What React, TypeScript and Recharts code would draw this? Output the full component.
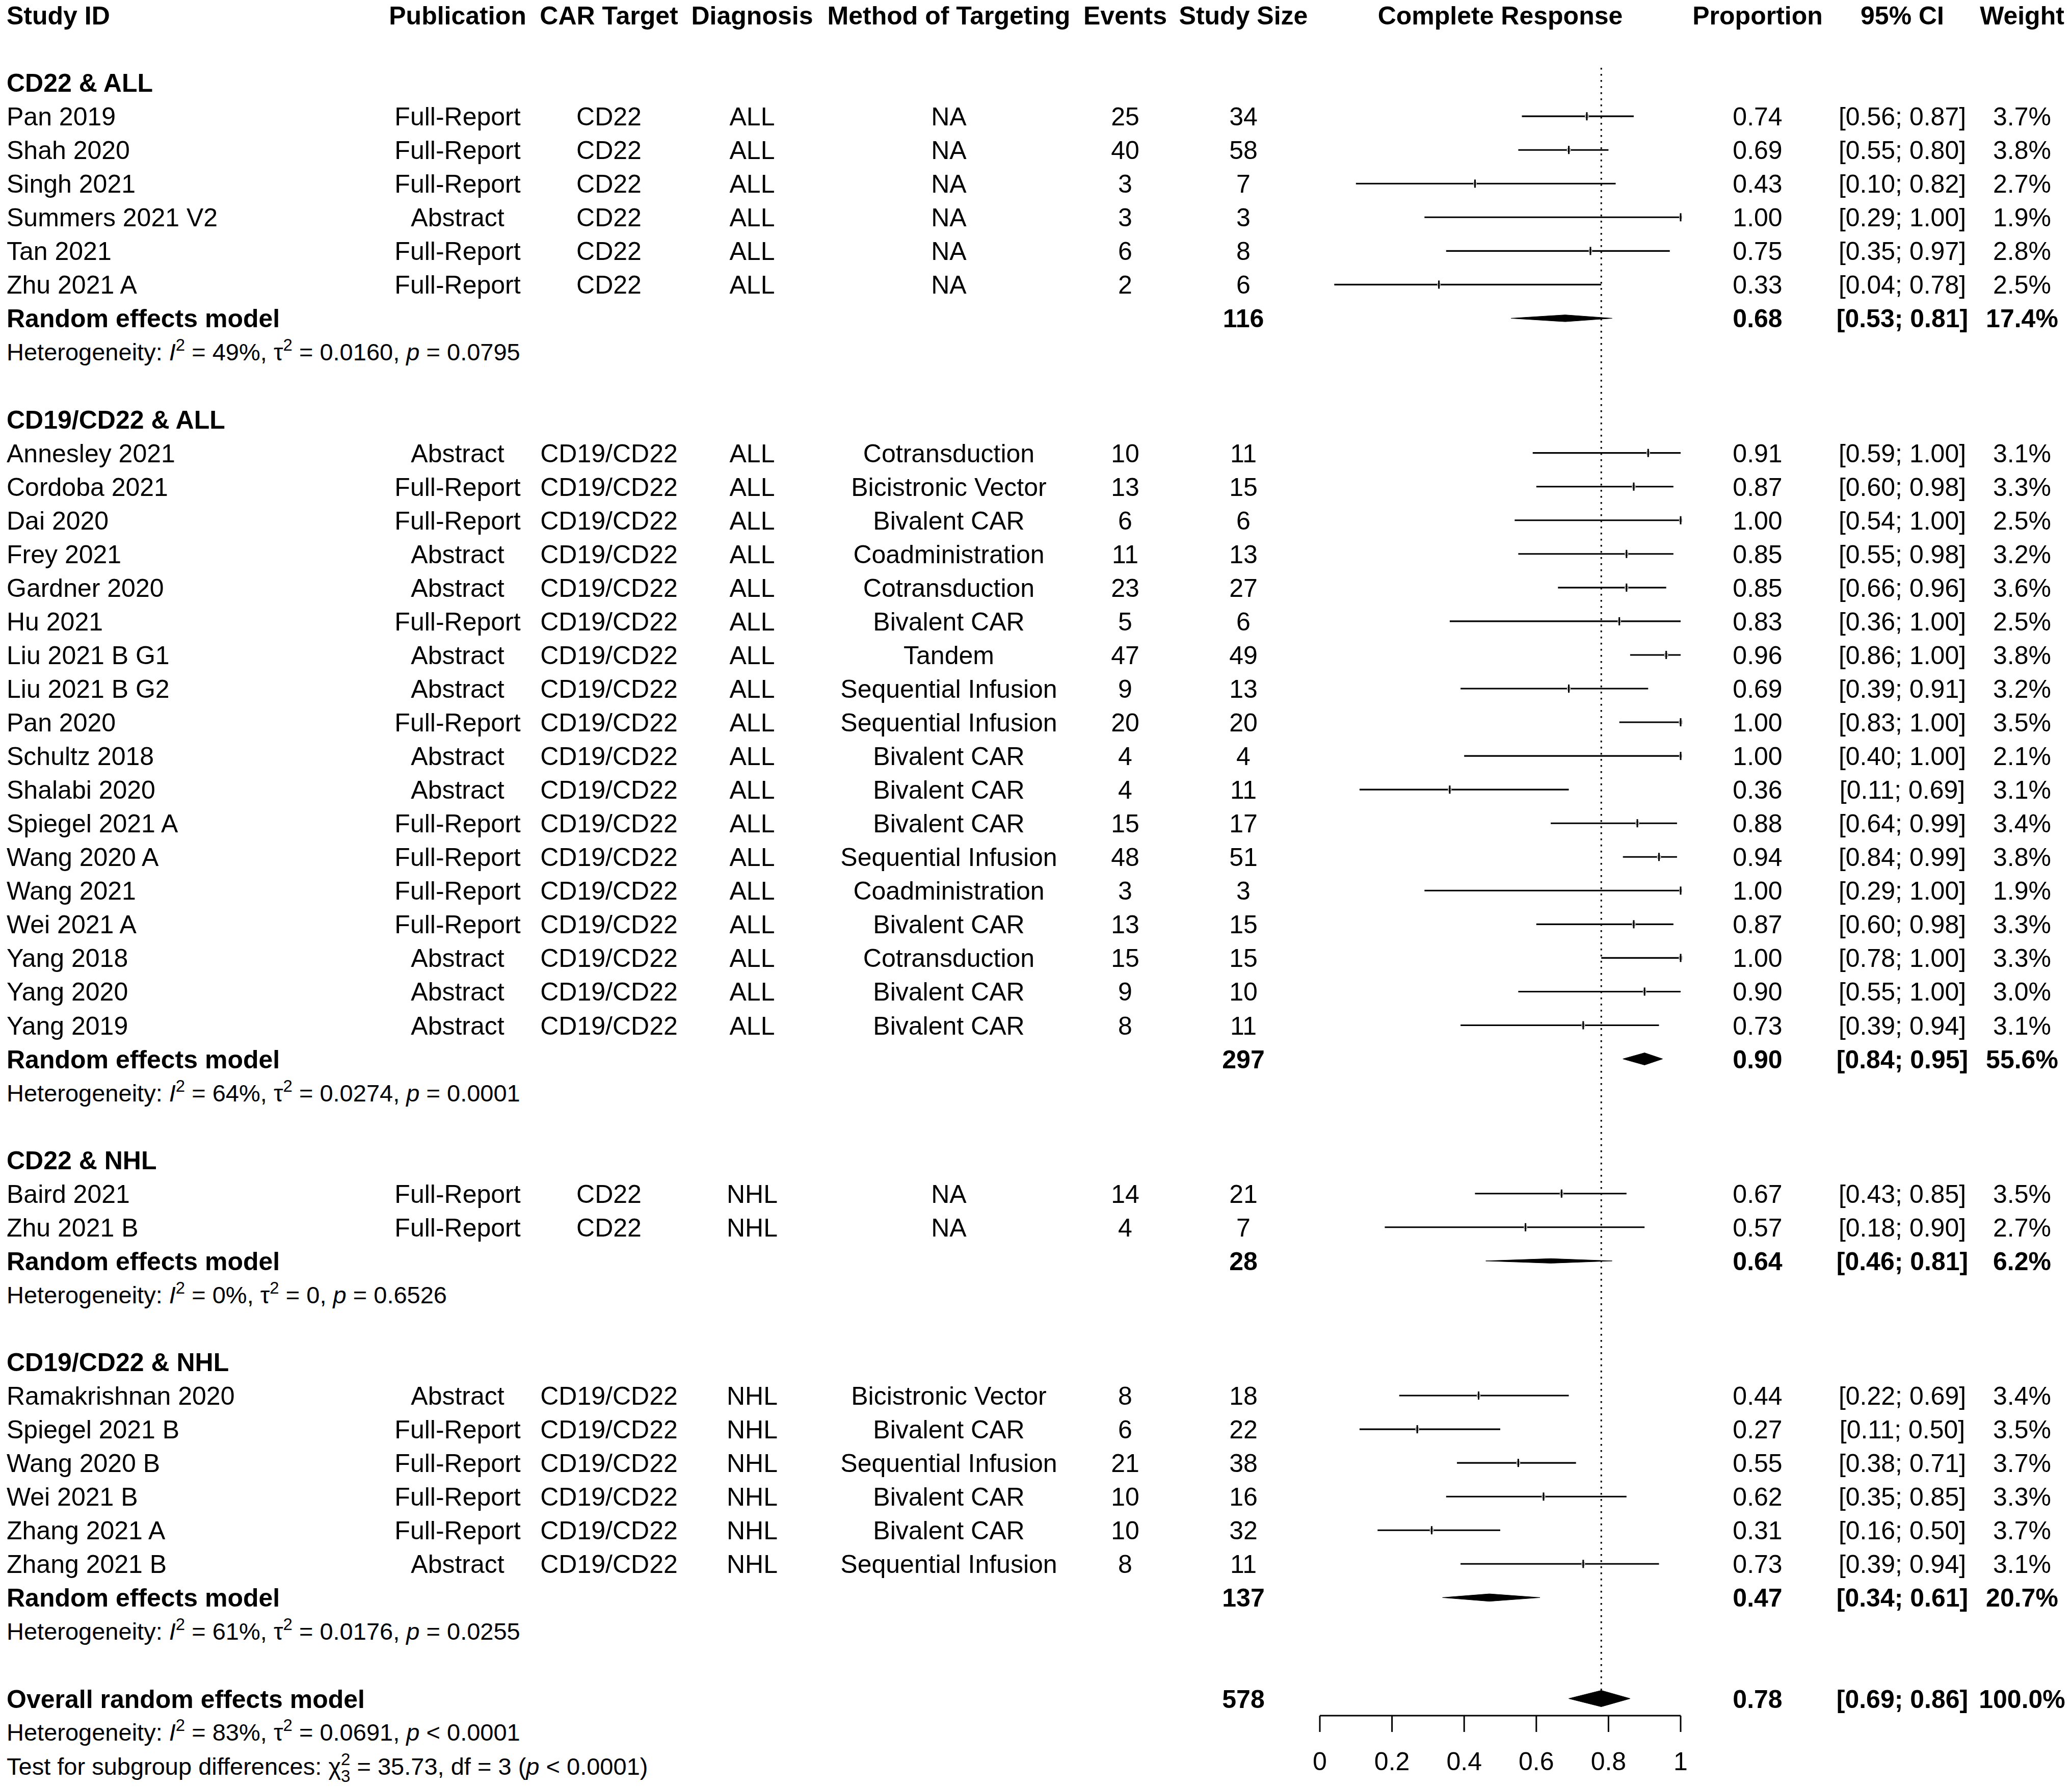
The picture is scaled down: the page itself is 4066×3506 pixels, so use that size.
import React from "react";
import { ComposedChart, Scatter, ErrorBar, XAxis, YAxis, ReferenceLine } from "recharts";

// subgroups
const groupNames = ["CD22 & ALL", "CD19/CD22 & ALL", "CD22 & NHL", "CD19/CD22 & NHL"];
const groupTotal = [116, 297, 28, 137];
const groupProp = [0.68, 0.9, 0.64, 0.47];
const groupLower = [0.53, 0.84, 0.46, 0.34];
const groupUpper = [0.81, 0.95, 0.81, 0.61];
const groupWeight = [17.4, 55.6, 6.2, 20.7];
const groupI2 = ["49%", "64%", "0%", "61%"];
const groupTau2 = ["0.0160", "0.0274", "0", "0.0176"];
const groupP = ["= 0.0795", "= 0.0001", "= 0.6526", "= 0.0255"];

// studies
const studyGroup = [0, 0, 0, 0, 0, 0, 1, 1, 1, 1, 1, 1, 1, 1, 1, 1, 1, 1, 1, 1, 1, 1, 1, 1, 2, 2, 3, 3, 3, 3, 3, 3];
const studyIds = [
  "Pan 2019", "Shah 2020", "Singh 2021", "Summers 2021 V2", "Tan 2021", "Zhu 2021 A",
  "Annesley 2021", "Cordoba 2021", "Dai 2020", "Frey 2021", "Gardner 2020", "Hu 2021",
  "Liu 2021 B G1", "Liu 2021 B G2", "Pan 2020", "Schultz 2018", "Shalabi 2020", "Spiegel 2021 A",
  "Wang 2020 A", "Wang 2021", "Wei 2021 A", "Yang 2018", "Yang 2020", "Yang 2019",
  "Baird 2021", "Zhu 2021 B",
  "Ramakrishnan 2020", "Spiegel 2021 B", "Wang 2020 B", "Wei 2021 B", "Zhang 2021 A", "Zhang 2021 B",
];
const publication = [
  "Full-Report", "Full-Report", "Full-Report", "Abstract", "Full-Report", "Full-Report",
  "Abstract", "Full-Report", "Full-Report", "Abstract", "Abstract", "Full-Report",
  "Abstract", "Abstract", "Full-Report", "Abstract", "Abstract", "Full-Report",
  "Full-Report", "Full-Report", "Full-Report", "Abstract", "Abstract", "Abstract",
  "Full-Report", "Full-Report",
  "Abstract", "Full-Report", "Full-Report", "Full-Report", "Full-Report", "Abstract",
];
const carTarget = [
  "CD22", "CD22", "CD22", "CD22", "CD22", "CD22",
  "CD19/CD22", "CD19/CD22", "CD19/CD22", "CD19/CD22", "CD19/CD22", "CD19/CD22",
  "CD19/CD22", "CD19/CD22", "CD19/CD22", "CD19/CD22", "CD19/CD22", "CD19/CD22",
  "CD19/CD22", "CD19/CD22", "CD19/CD22", "CD19/CD22", "CD19/CD22", "CD19/CD22",
  "CD22", "CD22",
  "CD19/CD22", "CD19/CD22", "CD19/CD22", "CD19/CD22", "CD19/CD22", "CD19/CD22",
];
const diagnosis = [
  "ALL", "ALL", "ALL", "ALL", "ALL", "ALL",
  "ALL", "ALL", "ALL", "ALL", "ALL", "ALL", "ALL", "ALL", "ALL", "ALL", "ALL", "ALL",
  "ALL", "ALL", "ALL", "ALL", "ALL", "ALL",
  "NHL", "NHL",
  "NHL", "NHL", "NHL", "NHL", "NHL", "NHL",
];
const method = [
  "NA", "NA", "NA", "NA", "NA", "NA",
  "Cotransduction", "Bicistronic Vector", "Bivalent CAR", "Coadministration", "Cotransduction", "Bivalent CAR",
  "Tandem", "Sequential Infusion", "Sequential Infusion", "Bivalent CAR", "Bivalent CAR", "Bivalent CAR",
  "Sequential Infusion", "Coadministration", "Bivalent CAR", "Cotransduction", "Bivalent CAR", "Bivalent CAR",
  "NA", "NA",
  "Bicistronic Vector", "Bivalent CAR", "Sequential Infusion", "Bivalent CAR", "Bivalent CAR", "Sequential Infusion",
];
const events = [25, 40, 3, 3, 6, 2, 10, 13, 6, 11, 23, 5, 47, 9, 20, 4, 4, 15, 48, 3, 13, 15, 9, 8, 14, 4, 8, 6, 21, 10, 10, 8];
const studySize = [34, 58, 7, 3, 8, 6, 11, 15, 6, 13, 27, 6, 49, 13, 20, 4, 11, 17, 51, 3, 15, 15, 10, 11, 21, 7, 18, 22, 38, 16, 32, 11];
const proportion = [0.74, 0.69, 0.43, 1.0, 0.75, 0.33, 0.91, 0.87, 1.0, 0.85, 0.85, 0.83, 0.96, 0.69, 1.0, 1.0, 0.36, 0.88, 0.94, 1.0, 0.87, 1.0, 0.9, 0.73, 0.67, 0.57, 0.44, 0.27, 0.55, 0.62, 0.31, 0.73];
const ciLower = [0.56, 0.55, 0.1, 0.29, 0.35, 0.04, 0.59, 0.6, 0.54, 0.55, 0.66, 0.36, 0.86, 0.39, 0.83, 0.4, 0.11, 0.64, 0.84, 0.29, 0.6, 0.78, 0.55, 0.39, 0.43, 0.18, 0.22, 0.11, 0.38, 0.35, 0.16, 0.39];
const ciUpper = [0.87, 0.8, 0.82, 1.0, 0.97, 0.78, 1.0, 0.98, 1.0, 0.98, 0.96, 1.0, 1.0, 0.91, 1.0, 1.0, 0.69, 0.99, 0.99, 1.0, 0.98, 1.0, 1.0, 0.94, 0.85, 0.9, 0.69, 0.5, 0.71, 0.85, 0.5, 0.94];
const weight = [3.7, 3.8, 2.7, 1.9, 2.8, 2.5, 3.1, 3.3, 2.5, 3.2, 3.6, 2.5, 3.8, 3.2, 3.5, 2.1, 3.1, 3.4, 3.8, 1.9, 3.3, 3.3, 3.0, 3.1, 3.5, 2.7, 3.4, 3.5, 3.7, 3.3, 3.7, 3.1];

// overall
const overallTotal = 578;
const overallProp = 0.78;
const overallLower = 0.69;
const overallUpper = 0.86;
const overallWeight = 100.0;
const overallI2 = "83%";
const overallTau2 = "0.0691";
const overallP = "< 0.0001";
const subgroupChi2 = "35.73";
const subgroupDf = 3;
const subgroupP = "< 0.0001";

const xTicks = [0, 0.2, 0.4, 0.6, 0.8, 1];

// layout
const W = 4066;
const H = 3506;
const ROW0 = 30;
const PITCH = 66.05;
const AXIS_Y = 3366;
const PLOT_LEFT = 2590;
const PLOT_RIGHT = 3298;
const FONT = '"Liberation Sans", Arial, Helvetica, sans-serif';
const FS = 50;
const HFS = 47; // heterogeneity lines are a bit smaller
const SFS = 33;
const SUP = 19;
const SUB = 14;
const LW = 3.1;

const col = {
  study: 13, publication: 898, car: 1195, diagnosis: 1476, method: 1862,
  events: 2208, size: 2440, response: 2944, prop: 3449, ci: 3733, weight: 3968,
};

type Row = { row: number; kind: string; g?: number; s?: number };
const rows: Row[] = [];
let rr = 0;
rows.push({ row: rr++, kind: "header" });
rr++;
groupNames.forEach((_, g) => {
  rows.push({ row: rr++, kind: "group", g });
  studyIds.forEach((_, s) => {
    if (studyGroup[s] === g) rows.push({ row: rr++, kind: "study", s });
  });
  rows.push({ row: rr++, kind: "pooled", g });
  rows.push({ row: rr++, kind: "het", g });
  rr++;
});
rows.push({ row: rr++, kind: "overall" });
rows.push({ row: rr++, kind: "overallHet" });
rows.push({ row: rr++, kind: "test" });
const rowMap = new Map(rows.map((r) => [r.row, r]));
const yMax = (AXIS_Y - ROW0) / PITCH;

const studyPoints = rows
  .filter((r) => r.kind === "study")
  .map((r) => {
    const s = r.s as number;
    return { x: proportion[s], y: r.row, err: [proportion[s] - ciLower[s], ciUpper[s] - proportion[s]], w: weight[s] };
  });

const diamondDefs = [
  ...rows
    .filter((r) => r.kind === "pooled")
    .map((r) => {
      const g = r.g as number;
      return { row: r.row, est: groupProp[g], lo: groupLower[g], hi: groupUpper[g], w: groupWeight[g] };
    }),
  { row: rows.find((r) => r.kind === "overall")!.row, est: overallProp, lo: overallLower, hi: overallUpper, w: overallWeight },
];
const halfOf = (w: number) => (16 * Math.sqrt(w / 100)) / PITCH;
const diamonds = diamondDefs.map((d) => {
  const h = Math.max(halfOf(d.w), 4.5 / PITCH);
  return [
    { x: d.lo, y: d.row },
    { x: d.est, y: d.row - h },
    { x: d.hi, y: d.row },
    { x: d.est, y: d.row + h },
    { x: d.lo, y: d.row },
  ];
});
const overallRow = diamondDefs[diamondDefs.length - 1].row;

const fmtCI = (lo: number, hi: number) => `[${lo.toFixed(2)}; ${hi.toFixed(2)}]`;

const StudyMarker = (p: any) => {
  const { cx, cy, payload } = p;
  const s = 4 + payload.w;
  return (
    <g>
      <rect x={cx - s / 2} y={cy - s / 2} width={s} height={s} fill="#bdbdbd" />
      <line x1={cx} x2={cx} y1={cy - 8} y2={cy + 8} stroke="#000" strokeWidth={LW} />
    </g>
  );
};

const Empty = () => <g />;

const RowTick = (props: any) => {
  const { y, payload } = props;
  const info = rowMap.get(payload.value);
  if (!info) return <g />;
  const t = (x: number, text: React.ReactNode, anchor: "start" | "middle", bold = false, size = FS) => (
    <text
      x={x}
      y={y}
      dy="0.36em"
      textAnchor={anchor}
      fontFamily={FONT}
      fontSize={size}
      fontWeight={bold ? "bold" : "normal"}
      fill="#000"
    >
      {text}
    </text>
  );
  const het = (i2: string, tau2: string, p: string) =>
    t(
      col.study,
      <>
        {"Heterogeneity: "}
        <tspan fontStyle="italic">I</tspan>
        <tspan dy={-SUP} fontSize={SFS}>2</tspan>
        <tspan dy={SUP}>{` = ${i2}, \u03c4`}</tspan>
        <tspan dy={-SUP} fontSize={SFS}>2</tspan>
        <tspan dy={SUP}>{` = ${tau2}, `}</tspan>
        <tspan fontStyle="italic">p</tspan>
        <tspan>{` ${p}`}</tspan>
      </>,
      "start",
      false,
      HFS
    );
  switch (info.kind) {
    case "header":
      return (
        <g>
          {t(col.study, "Study ID", "start", true)}
          {t(col.publication, "Publication", "middle", true)}
          {t(col.car, "CAR Target", "middle", true)}
          {t(col.diagnosis, "Diagnosis", "middle", true)}
          {t(col.method, "Method of Targeting", "middle", true)}
          {t(col.events, "Events", "middle", true)}
          {t(col.size, "Study Size", "middle", true)}
          {t(col.response, "Complete Response", "middle", true)}
          {t(col.prop, "Proportion", "middle", true)}
          {t(col.ci, "95% CI", "middle", true)}
          {t(col.weight, "Weight", "middle", true)}
        </g>
      );
    case "group":
      return t(col.study, groupNames[info.g as number], "start", true);
    case "study": {
      const s = info.s as number;
      return (
        <g>
          {t(col.study, studyIds[s], "start")}
          {t(col.publication, publication[s], "middle")}
          {t(col.car, carTarget[s], "middle")}
          {t(col.diagnosis, diagnosis[s], "middle")}
          {t(col.method, method[s], "middle")}
          {t(col.events, String(events[s]), "middle")}
          {t(col.size, String(studySize[s]), "middle")}
          {t(col.prop, proportion[s].toFixed(2), "middle")}
          {t(col.ci, fmtCI(ciLower[s], ciUpper[s]), "middle")}
          {t(col.weight, `${weight[s].toFixed(1)}%`, "middle")}
        </g>
      );
    }
    case "pooled": {
      const g = info.g as number;
      return (
        <g>
          {t(col.study, "Random effects model", "start", true)}
          {t(col.size, String(groupTotal[g]), "middle", true)}
          {t(col.prop, groupProp[g].toFixed(2), "middle", true)}
          {t(col.ci, fmtCI(groupLower[g], groupUpper[g]), "middle", true)}
          {t(col.weight, `${groupWeight[g].toFixed(1)}%`, "middle", true)}
        </g>
      );
    }
    case "het": {
      const g = info.g as number;
      return het(groupI2[g], groupTau2[g], groupP[g]);
    }
    case "overall":
      return (
        <g>
          {t(col.study, "Overall random effects model", "start", true)}
          {t(col.size, String(overallTotal), "middle", true)}
          {t(col.prop, overallProp.toFixed(2), "middle", true)}
          {t(col.ci, fmtCI(overallLower, overallUpper), "middle", true)}
          {t(col.weight, `${overallWeight.toFixed(1)}%`, "middle", true)}
        </g>
      );
    case "overallHet":
      return het(overallI2, overallTau2, overallP);
    case "test":
      return t(
        col.study,
        <>
          {"Test for subgroup differences: "}
          <tspan>{"\u03c7"}</tspan>
          <tspan dy={-SUP} fontSize={SFS}>2</tspan>
          <tspan dx={-SFS * 0.556} dy={SUP + SUB} fontSize={SFS}>{String(subgroupDf)}</tspan>
          <tspan dy={-SUB}>{` = ${subgroupChi2}, df = ${subgroupDf} (`}</tspan>
          <tspan fontStyle="italic">p</tspan>
          <tspan>{` ${subgroupP})`}</tspan>
        </>,
        "start",
        false,
        HFS
      );
    default:
      return <g />;
  }
};

export default function App() {
  return (
    <div style={{ position: "absolute", left: 0, top: 0, width: W, height: H, background: "#fff" }}>
      <ComposedChart width={W} height={H} margin={{ top: ROW0, right: W - PLOT_RIGHT, bottom: 0, left: 0 }}>
        <XAxis
          type="number"
          dataKey="x"
          domain={[0, 1]}
          ticks={xTicks}
          interval={0}
          height={H - AXIS_Y}
          tickSize={32}
          tickMargin={39}
          tickFormatter={(v: number) => String(v)}
          tick={{ fontSize: FS, fontFamily: FONT, fill: "#000" }}
          axisLine={{ stroke: "#000", strokeWidth: 3 }}
          tickLine={{ stroke: "#000", strokeWidth: 3 }}
        />
        <YAxis
          type="number"
          dataKey="y"
          domain={[0, yMax]}
          allowDataOverflow
          reversed
          width={PLOT_LEFT}
          ticks={rows.map((r) => r.row)}
          interval={0}
          axisLine={false}
          tickLine={false}
          tick={<RowTick />}
        />
        <ReferenceLine
          segment={[
            { x: overallProp, y: 1.56 },
            { x: overallProp, y: overallRow - halfOf(overallWeight) },
          ]}
          stroke="#000"
          strokeWidth={3}
          strokeDasharray="3.5 8.5"
        />
        <Scatter data={studyPoints} shape={<StudyMarker />} isAnimationActive={false}>
          <ErrorBar dataKey="err" direction="x" width={0} stroke="#000" strokeWidth={LW} isAnimationActive={false} />
        </Scatter>
        {diamonds.map((d, i) => (
          <Scatter
            key={i}
            data={d}
            shape={<Empty />}
            line={{ stroke: "#000", fill: "#000", strokeWidth: 1 }}
            isAnimationActive={false}
          />
        ))}
      </ComposedChart>
    </div>
  );
}
